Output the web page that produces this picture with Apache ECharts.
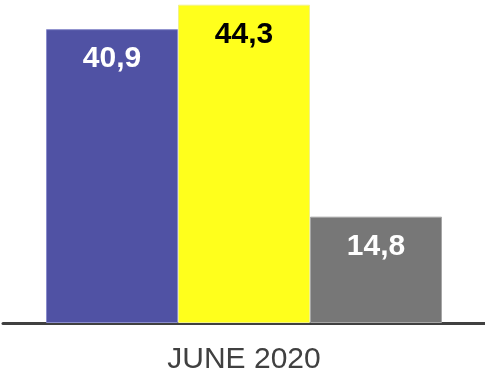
<!DOCTYPE html>
<html>
<head>
<meta charset="utf-8">
<script src="https://cdn.jsdelivr.net/npm/echarts@6/dist/echarts.min.js"></script>
<style>
  html, body { margin: 0; padding: 0; background: #ffffff; }
  #chart { width: 485px; height: 376px; }
</style>
</head>
<body>
<div id="chart"></div>
<script>
// Single period, three groups side by side
const categories = ['JUNE 2020'];
const seriesNames = ['A', 'B', 'C'];
const seriesValues = [[40.9], [44.3], [14.8]];
const barColors = ['#5052a4', '#ffff1c', '#777777'];
const borderColors = ['#8a8ccc', '#f2f28a', '#a6a6a6'];
const labelColors = ['#ffffff', '#000000', '#ffffff'];

const fmt = v => String(v).replace('.', ',');

const chart = echarts.init(document.getElementById('chart'));
chart.setOption({
  animation: false,
  grid: { left: 3, right: 0, top: 4, bottom: 53, outerBoundsMode: 'none' },
  xAxis: {
    type: 'category',
    data: categories,
    axisLine: { show: true, lineStyle: { color: '#404040', width: 3 } },
    axisTick: { show: false },
    axisLabel: {
      color: '#404040',
      fontSize: 30,
      fontFamily: 'Liberation Sans, Arial, sans-serif',
      margin: 22
    }
  },
  yAxis: {
    type: 'value',
    min: 0,
    max: 44.4,
    show: false,
    splitLine: { show: false }
  },
  series: seriesNames.map((name, i) => ({
    name: name,
    type: 'bar',
    data: seriesValues[i],
    barWidth: 132,
    barGap: '0%',
    itemStyle: { color: barColors[i], borderColor: borderColors[i], borderWidth: 1 },
    label: {
      show: true,
      position: 'insideTop',
      distance: 15,
      color: labelColors[i],
      fontSize: 30,
      fontWeight: 'bold',
      fontFamily: 'Liberation Sans, Arial, sans-serif',
      formatter: p => fmt(p.value)
    }
  }))
});
</script>
</body>
</html>
